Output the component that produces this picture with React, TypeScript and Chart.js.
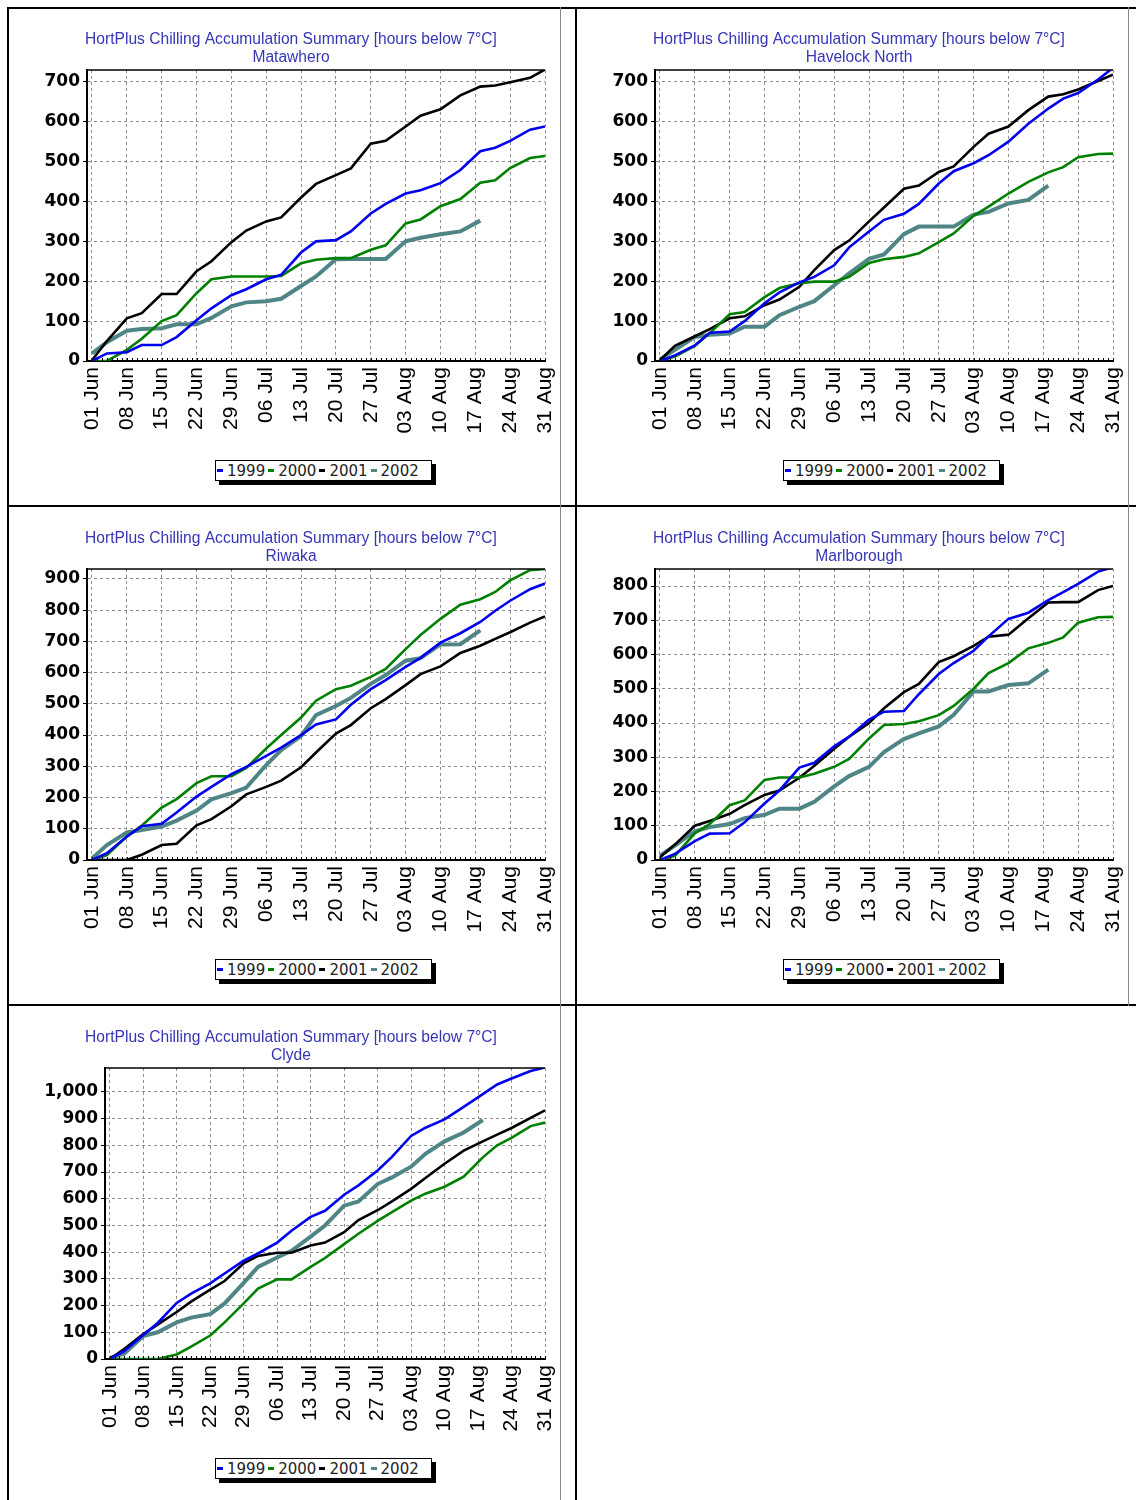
import React, { useEffect, useRef } from "react";
import { Chart, registerables } from "chart.js";
Chart.register(...registerables);

const SANS = "'Liberation Sans', Arial, sans-serif";
const WIDE = "'DejaVu Sans', Verdana, sans-serif";

const TITLE = "HortPlus Chilling Accumulation Summary [hours below 7°C]";
const seriesNames = ["1999", "2000", "2001", "2002"];
const seriesColors = ["#0000ee", "#008000", "#000000", "#4f8585"];
const seriesWidths = [2.6, 2.6, 2.6, 4];

// days since 01 Jun
const sampleDays = [0, 3, 7, 10, 14, 17, 21, 24, 28, 31, 35, 38, 42, 45, 49, 52, 56, 59, 63, 66, 70, 74, 78, 81, 84, 88, 91];
const xTickDays = [0, 7, 14, 21, 28, 35, 42, 49, 56, 63, 70, 77, 84, 91];
const xTickLabels = ["01 Jun", "08 Jun", "15 Jun", "22 Jun", "29 Jun", "06 Jul", "13 Jul", "20 Jul", "27 Jul", "03 Aug", "10 Aug", "17 Aug", "24 Aug", "31 Aug"];

const N = null;
// Matawhero
const matawhero1999 = [0, 19, 22, 40, 40, 60, 102, 132, 165, 180, 205, 216, 272, 300, 303, 325, 370, 394, 420, 428, 446, 479, 526, 535, 552, 580, 588];
const matawhero2000 = [0, 0, 28, 56, 100, 115, 170, 205, 212, 212, 212, 213, 245, 254, 258, 258, 279, 290, 345, 355, 388, 406, 447, 453, 484, 509, 514];
const matawhero2001 = [2, 50, 107, 120, 168, 168, 225, 250, 298, 327, 350, 360, 410, 444, 466, 483, 545, 552, 588, 615, 631, 666, 688, 691, 699, 710, 731];
const matawhero2002 = [19, 47, 76, 80, 82, 92, 92, 108, 137, 147, 150, 156, 188, 212, 255, 256, 256, 256, 300, 309, 318, 325, 352, N, N, N, N];
const matawheroYTicks = [0, 100, 200, 300, 400, 500, 600, 700];

// Havelock North
const havelock1999 = [0, 14, 39, 71, 74, 100, 145, 172, 197, 211, 240, 285, 325, 354, 369, 394, 445, 476, 496, 516, 550, 595, 633, 658, 672, 706, 735];
const havelock2000 = [0, 11, 38, 70, 117, 123, 160, 183, 195, 199, 199, 211, 246, 255, 261, 270, 298, 320, 364, 387, 420, 449, 473, 486, 511, 519, 520];
const havelock2001 = [2, 38, 62, 80, 107, 112, 140, 154, 186, 228, 278, 302, 350, 385, 432, 440, 474, 488, 537, 570, 588, 629, 663, 669, 681, 702, 718];
const havelock2002 = [4, 28, 60, 66, 69, 86, 86, 115, 136, 150, 190, 220, 256, 267, 318, 337, 337, 337, 367, 374, 395, 404, 440, N, N, N, N];
const havelockYTicks = [0, 100, 200, 300, 400, 500, 600, 700];

// Riwaka
const riwaka1999 = [0, 22, 75, 108, 116, 152, 203, 234, 275, 298, 333, 360, 400, 434, 450, 497, 547, 576, 618, 647, 696, 726, 762, 798, 830, 867, 885];
const riwaka2000 = [0, 16, 75, 110, 168, 195, 246, 268, 268, 295, 357, 400, 456, 510, 547, 558, 586, 612, 675, 720, 772, 817, 835, 858, 895, 928, 932];
const riwaka2001 = [0, 0, 0, 17, 48, 52, 111, 131, 172, 210, 234, 254, 297, 344, 405, 432, 486, 515, 560, 595, 620, 663, 686, 708, 729, 760, 780];
const riwaka2002 = [5, 48, 88, 96, 107, 126, 158, 194, 214, 232, 304, 352, 397, 464, 493, 519, 564, 592, 638, 646, 690, 691, 735, N, N, N, N];
const riwakaYTicks = [0, 100, 200, 300, 400, 500, 600, 700, 800, 900];

// Marlborough
const marlborough1999 = [0, 18, 55, 77, 78, 110, 165, 203, 270, 284, 332, 360, 410, 433, 435, 484, 543, 575, 611, 653, 704, 722, 759, 782, 806, 842, 855];
const marlborough2000 = [0, 12, 78, 105, 160, 174, 234, 241, 241, 252, 272, 295, 355, 394, 397, 405, 423, 450, 500, 546, 575, 618, 634, 650, 693, 709, 710];
const marlborough2001 = [8, 45, 100, 114, 135, 160, 190, 203, 240, 275, 325, 360, 400, 443, 490, 514, 578, 595, 625, 652, 658, 706, 752, 753, 753, 788, 800];
const marlborough2002 = [13, 42, 84, 96, 105, 122, 132, 150, 150, 170, 215, 245, 272, 315, 353, 370, 390, 424, 492, 492, 511, 516, 556, N, N, N, N];
const marlboroughYTicks = [0, 100, 200, 300, 400, 500, 600, 700, 800];

// Clyde
const clyde1999 = [0, 29, 90, 135, 210, 245, 283, 320, 368, 395, 436, 480, 532, 555, 615, 650, 706, 757, 835, 866, 897, 944, 992, 1028, 1050, 1078, 1092];
const clyde2000 = [0, 0, 0, 0, 17, 46, 88, 137, 208, 264, 298, 298, 345, 378, 430, 469, 517, 550, 593, 619, 645, 683, 755, 800, 828, 872, 885];
const clyde2001 = [0, 37, 93, 129, 176, 215, 260, 292, 358, 386, 398, 398, 425, 436, 475, 520, 557, 590, 637, 678, 731, 780, 815, 840, 865, 903, 931];
const clyde2002 = [4, 20, 86, 100, 137, 155, 168, 208, 285, 345, 380, 405, 458, 500, 574, 590, 655, 680, 720, 768, 815, 848, 895, N, N, N, N];
const clydeYTicks = [0, 100, 200, 300, 400, 500, 600, 700, 800, 900, 1000];

type Station = {
  name: string;
  yMax: number;
  yTicks: number[];
  yAxisWidth: number;
  series: (number | null)[][];
  col: number;
  row: number;
};

const stations: Station[] = [
  { name: "Matawhero", yMax: 730, yTicks: matawheroYTicks, yAxisWidth: 50, series: [matawhero1999, matawhero2000, matawhero2001, matawhero2002], col: 0, row: 0 },
  { name: "Havelock North", yMax: 730, yTicks: havelockYTicks, yAxisWidth: 50, series: [havelock1999, havelock2000, havelock2001, havelock2002], col: 1, row: 0 },
  { name: "Riwaka", yMax: 932, yTicks: riwakaYTicks, yAxisWidth: 50, series: [riwaka1999, riwaka2000, riwaka2001, riwaka2002], col: 0, row: 1 },
  { name: "Marlborough", yMax: 850, yTicks: marlboroughYTicks, yAxisWidth: 50, series: [marlborough1999, marlborough2000, marlborough2001, marlborough2002], col: 1, row: 1 },
  { name: "Clyde", yMax: 1090, yTicks: clydeYTicks, yAxisWidth: 68, series: [clyde1999, clyde2000, clyde2001, clyde2002], col: 0, row: 2 },
];

const framePlugin = {
  id: "frame",
  afterDraw(chart: any) {
    const { ctx, chartArea, scales } = chart;
    const { left, right, top, bottom } = chartArea;
    ctx.save();
    ctx.strokeStyle = "#000";
    ctx.lineWidth = 1.5;
    ctx.beginPath();
    ctx.moveTo(left - 1, top);
    ctx.lineTo(right, top);
    ctx.stroke();
    ctx.lineWidth = 1;
    ctx.beginPath();
    for (let d = 0; d <= 91; d++) {
      const px = Math.round(scales.x.getPixelForValue(d)) + 0.5;
      ctx.moveTo(px, bottom);
      ctx.lineTo(px, bottom - 3);
    }
    ctx.stroke();
    ctx.restore();
  },
};

const CW = 551;
const CH = 450;

function Panel({ st }: { st: Station }) {
  const ref = useRef<HTMLCanvasElement>(null);
  useEffect(() => {
    if (!ref.current) return;
    const chart = new Chart(ref.current, {
      type: "line",
      data: {
        datasets: seriesNames.map((nm, i) => ({
          label: nm,
          data: sampleDays
            .map((d, j) => ({ x: d, y: st.series[i][j] }))
            .filter((p) => p.y !== null) as any,
          borderColor: seriesColors[i],
          backgroundColor: seriesColors[i],
          borderWidth: seriesWidths[i],
          pointRadius: 0,
          tension: 0,
          fill: false,
        })),
      },
      options: {
        responsive: false,
        animation: false,
        layout: { padding: { left: 28, right: 15, top: 0, bottom: 0 } },
        plugins: {
          legend: { display: false },
          tooltip: { enabled: false },
          title: {
            display: true,
            text: [TITLE, st.name],
            color: "#3535b5",
            font: { family: SANS, size: 15.6, weight: "normal", lineHeight: 1.15 },
            padding: { top: 22, bottom: 3 },
          },
        },
        scales: {
          x: {
            type: "linear",
            min: -1,
            max: 91,
            afterBuildTicks: (s: any) => {
              s.ticks = xTickDays.map((v) => ({ value: v }));
            },
            afterFit: (s: any) => {
              s.height = 98;
              s.paddingRight = 0;
              s.paddingLeft = 0;
            },
            ticks: {
              autoSkip: false,
              minRotation: 90,
              maxRotation: 90,
              padding: 6,
              color: "#000",
              font: { family: SANS, size: 21 },
              callback: (v: any) => {
                const k = xTickDays.indexOf(Number(v));
                return k >= 0 ? xTickLabels[k] : "";
              },
            },
            grid: { color: "#8c8c8c", lineWidth: 1, drawTicks: false, tickLength: 0, borderDash: [3, 3] } as any,
            border: { color: "#000", width: 2, dash: [3, 3] },
          },
          y: {
            min: 0,
            max: st.yMax,
            afterBuildTicks: (s: any) => {
              s.ticks = st.yTicks.map((v) => ({ value: v }));
            },
            afterFit: (s: any) => {
              s.width = st.yAxisWidth;
            },
            ticks: {
              color: "#000",
              padding: 3,
              font: { family: WIDE, size: 17, weight: "bold" },
              callback: (v: any) => Number(v).toLocaleString("en-US"),
            },
            grid: { color: "#8c8c8c", lineWidth: 1, drawTicks: true, tickLength: 4, tickColor: "#000", tickBorderDash: [], borderDash: [3, 3] } as any,
            border: { color: "#000", width: 2, dash: [3, 3] },
          },
        },
      },
      plugins: [framePlugin],
    } as any);
    return () => chart.destroy();
  }, [st]);

  const left = 9 + st.col * 568;
  const top = 9 + st.row * 499;
  return (
    <>
      <canvas
        ref={ref}
        width={CW}
        height={CH}
        style={{ position: "absolute", left, top, width: CW, height: CH }}
      />
      <div
        style={{
          position: "absolute",
          left: 215 + st.col * 568,
          top: 460 + st.row * 499,
          width: 214,
          height: 19,
          border: "1px solid #000",
          background: "#fff",
          boxShadow: "4px 4px 0 #000",
          display: "flex",
          alignItems: "center",
          paddingLeft: 1,
          fontFamily: WIDE,
          fontSize: 15,
          color: "#222",
          boxSizing: "content-box",
        }}
      >
        {seriesNames.map((nm, i) => (
          <span key={nm} style={{ display: "flex", alignItems: "center", marginRight: 3 }}>
            <span style={{ display: "inline-block", width: 6, height: 3, background: seriesColors[i], marginRight: 4 }} />
            <span>{nm}</span>
          </span>
        ))}
      </div>
    </>
  );
}

function Rule({ x, y, w, h, c }: { x: number; y: number; w: number; h: number; c: string }) {
  return <div style={{ position: "absolute", left: x, top: y, width: w, height: h, background: c }} />;
}

export default function App() {
  return (
    <div style={{ position: "absolute", left: 0, top: 0, width: 1136, height: 1500, overflow: "hidden", background: "#fff" }}>
      {stations.map((st) => (
        <Panel key={st.name} st={st} />
      ))}
      <Rule x={7} y={7} w={1129} h={2} c="#000" />
      <Rule x={7} y={505} w={1129} h={2} c="#000" />
      <Rule x={7} y={1004} w={1129} h={2} c="#000" />
      <Rule x={7} y={7} w={2} h={1493} c="#000" />
      <Rule x={575} y={7} w={2} h={1493} c="#000" />
      <Rule x={560} y={7} w={1} h={1493} c="#888" />
      <Rule x={1128} y={7} w={1} h={999} c="#888" />
    </div>
  );
}
